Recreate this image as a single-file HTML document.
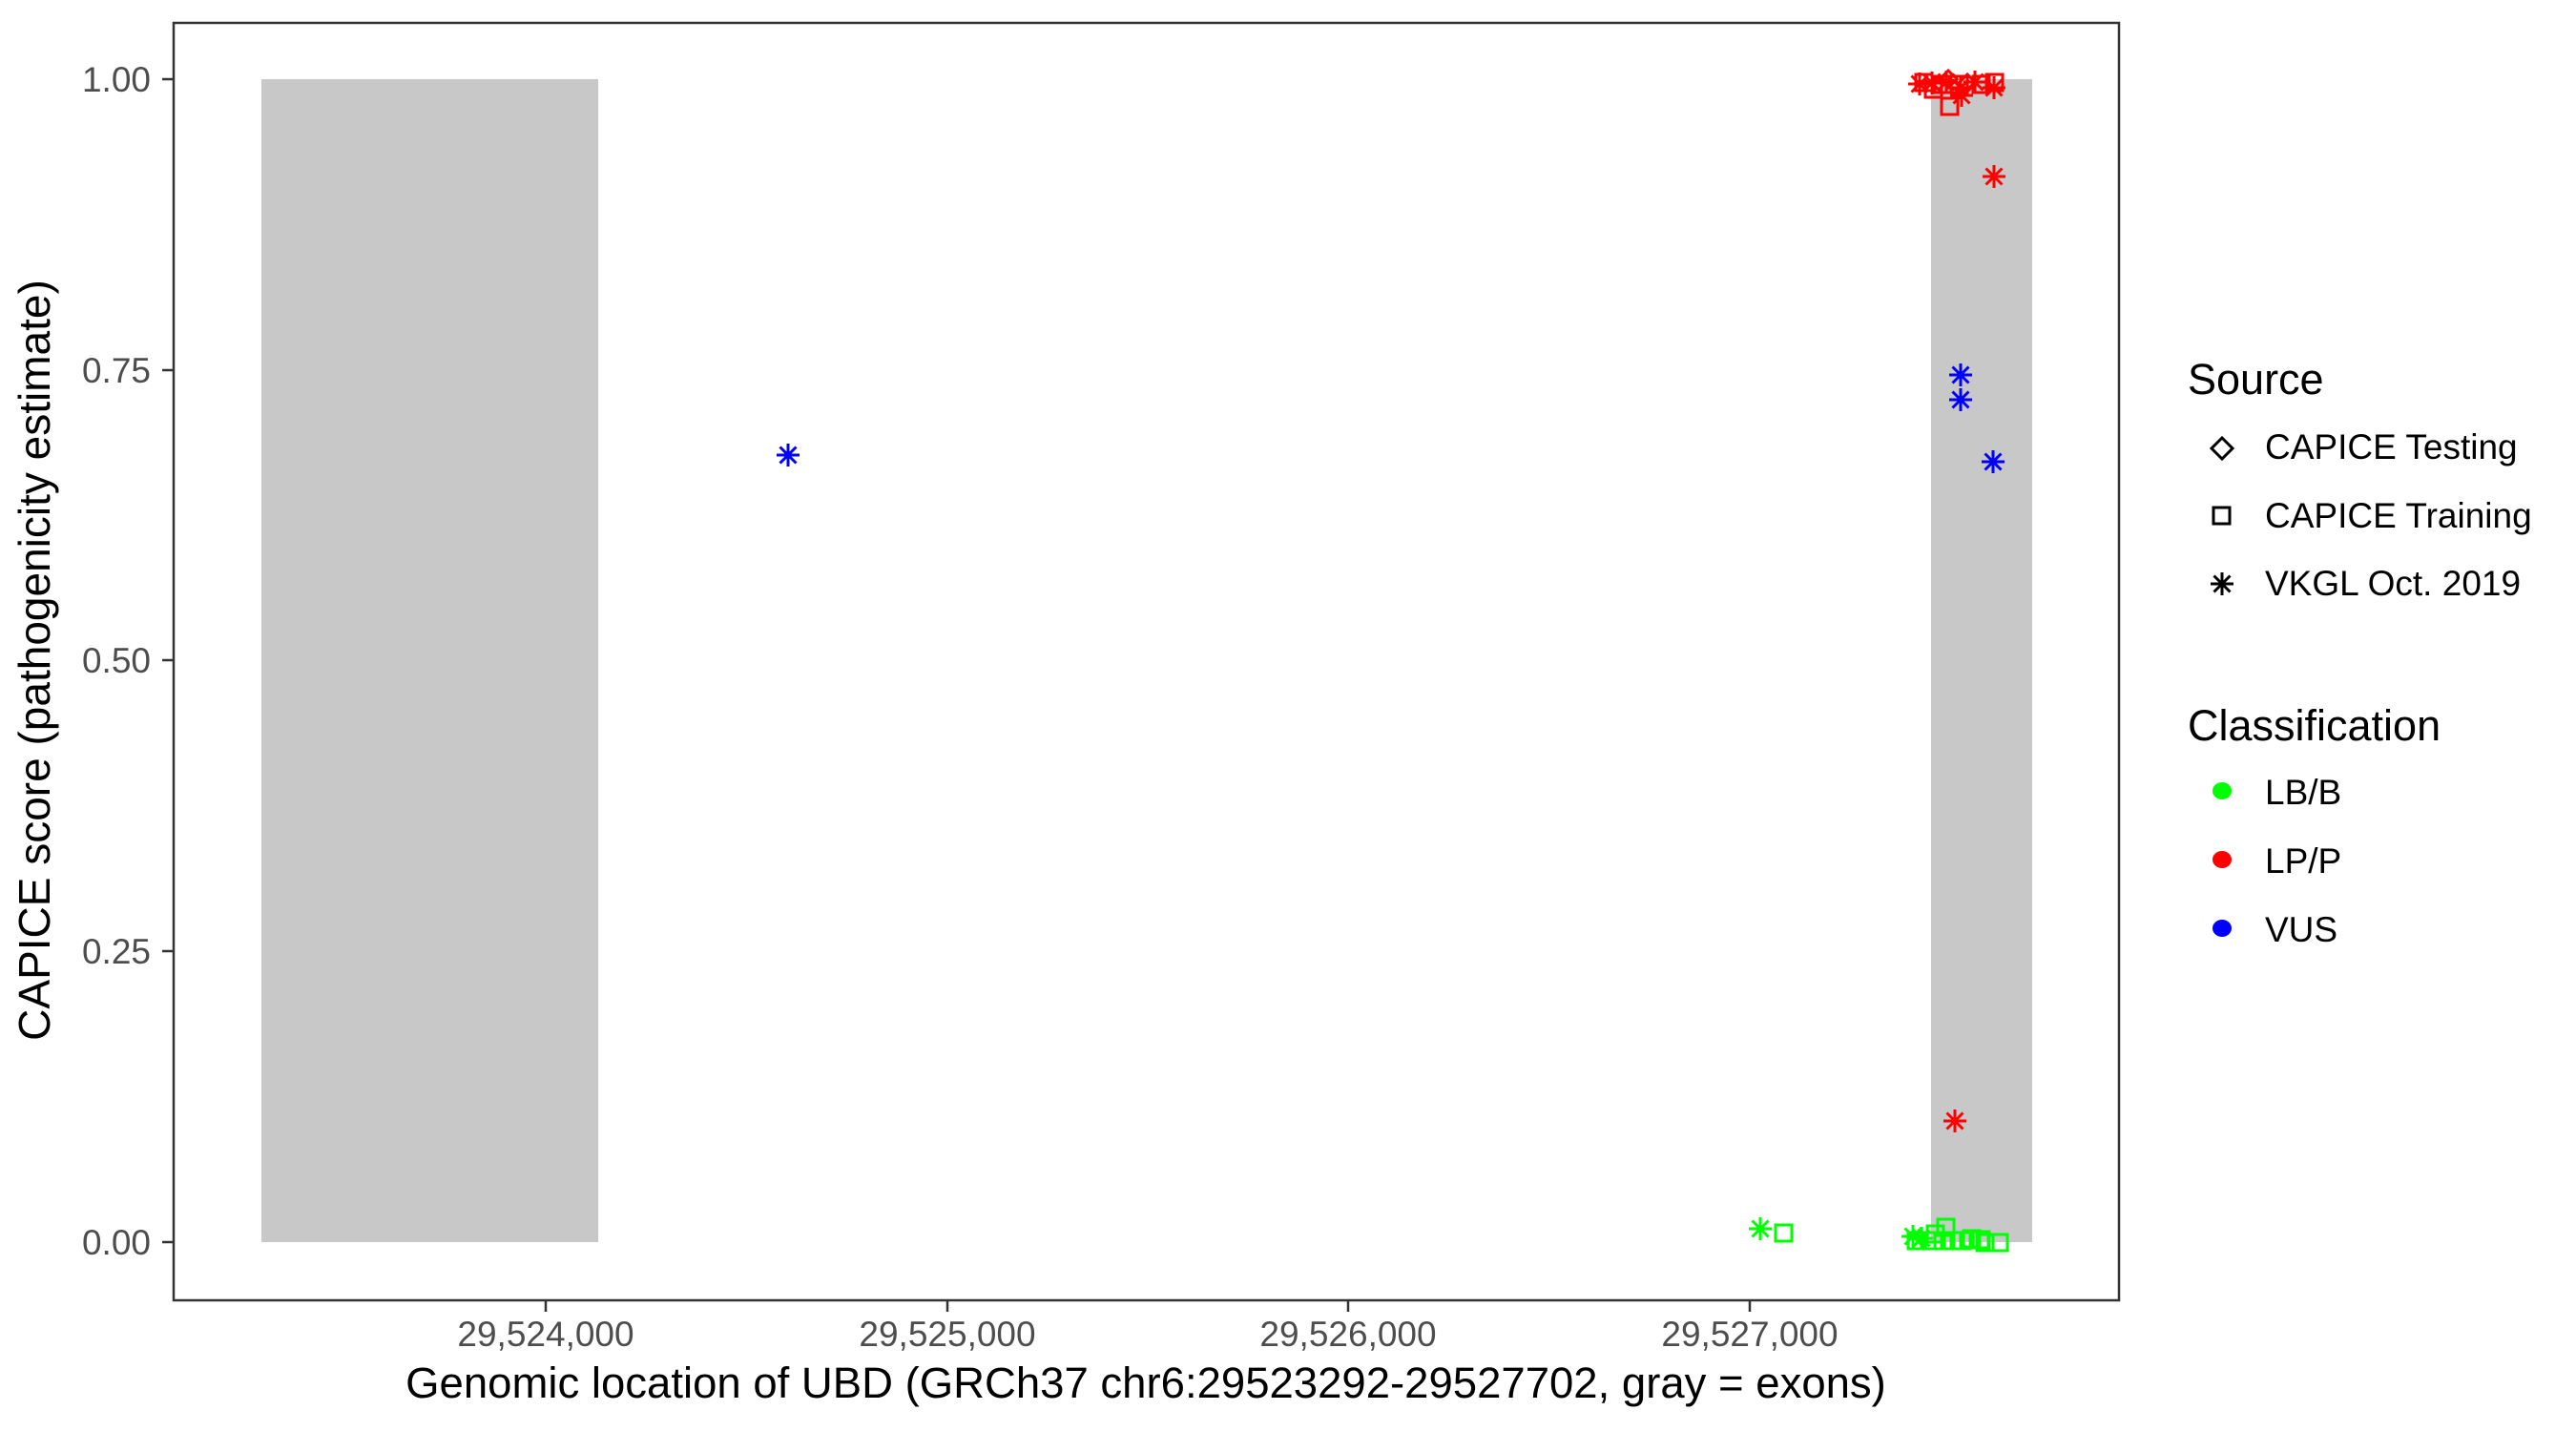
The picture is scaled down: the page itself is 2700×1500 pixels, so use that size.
<!DOCTYPE html>
<html><head><meta charset="utf-8"><style>
html,body{margin:0;padding:0;background:#fff;}
svg{display:block;font-family:"Liberation Sans",Arial,sans-serif;}
</style></head><body>
<svg width="2700" height="1500" viewBox="0 0 2700 1500" xmlns="http://www.w3.org/2000/svg">
<defs>
<g id="ast"><path d="M-12,0H12M0,-12V12M-8.5,-8.5L8.5,8.5M-8.5,8.5L8.5,-8.5" stroke-width="3" fill="none"/></g>
</defs>
<rect x="0" y="0" width="2700" height="1500" fill="#fff"/>
<rect x="274" y="83" width="353" height="1219" fill="#c8c8c8"/>
<rect x="2024" y="83" width="106" height="1219" fill="#c8c8c8"/>
<rect x="182" y="24" width="2039" height="1339" fill="none" stroke="#333" stroke-width="2.5"/>
<g stroke="#333" stroke-width="2.5">
<line x1="170" x2="182" y1="83" y2="83"/>
<line x1="170" x2="182" y1="388" y2="388"/>
<line x1="170" x2="182" y1="692" y2="692"/>
<line x1="170" x2="182" y1="997" y2="997"/>
<line x1="170" x2="182" y1="1302" y2="1302"/>
<line x1="572" x2="572" y1="1363" y2="1375"/>
<line x1="993" x2="993" y1="1363" y2="1375"/>
<line x1="1413" x2="1413" y1="1363" y2="1375"/>
<line x1="1834" x2="1834" y1="1363" y2="1375"/>
</g>
<g fill="#4d4d4d" font-size="37" text-anchor="end">
<text x="158" y="96">1.00</text>
<text x="158" y="401">0.75</text>
<text x="158" y="705">0.50</text>
<text x="158" y="1010">0.25</text>
<text x="158" y="1315">0.00</text>
</g>
<g fill="#4d4d4d" font-size="37" text-anchor="middle">
<text x="572" y="1411">29,524,000</text>
<text x="993" y="1411">29,525,000</text>
<text x="1413" y="1411">29,526,000</text>
<text x="1834" y="1411">29,527,000</text>
</g>
<text x="1201" y="1465" font-size="45.5" text-anchor="middle" fill="#000">Genomic location of UBD (GRCh37 chr6:29523292-29527702, gray = exons)</text>
<text transform="translate(52,692) rotate(-90)" font-size="46" text-anchor="middle" fill="#000">CAPICE score (pathogenicity estimate)</text>

<g stroke="#00ff00" fill="none" stroke-width="3">
<use href="#ast" x="1845" y="1288"/>
<rect x="1861" y="1284" width="17" height="17"/>
<use href="#ast" x="2005" y="1296"/>
<use href="#ast" x="2014" y="1298"/>
<rect x="2000" y="1292" width="17" height="17"/>
<rect x="2020" y="1285" width="17" height="17"/>
<rect x="2031" y="1278" width="17" height="17"/>
<rect x="2018" y="1292" width="17" height="17"/>
<rect x="2028" y="1292" width="17" height="17"/>
<rect x="2038" y="1292" width="17" height="17"/>
<rect x="2048" y="1292" width="17" height="17"/>
<rect x="2058" y="1290" width="17" height="17"/>
<rect x="2068" y="1291" width="17" height="17"/>
<rect x="2072" y="1294" width="17" height="17"/>
<rect x="2084" y="1294" width="20" height="17"/>
</g>
<g stroke="#ff0000" fill="none" stroke-width="3">
<use href="#ast" x="2012" y="88"/>
<use href="#ast" x="2025" y="87"/>
<use href="#ast" x="2040" y="86"/>
<use href="#ast" x="2055" y="92"/>
<use href="#ast" x="2070" y="86"/>
<use href="#ast" x="2090" y="92"/>
<use href="#ast" x="2056" y="100"/>
<rect x="2008" y="78" width="17" height="17"/>
<rect x="2018" y="85" width="17" height="17"/>
<rect x="2028" y="80" width="17" height="17"/>
<rect x="2035" y="103" width="17" height="17"/>
<rect x="2045" y="80" width="17" height="17"/>
<rect x="2068" y="80" width="17" height="17"/>
<rect x="2082" y="78" width="17" height="17"/>
<path d="M2042,74 l9,9 -9,9 -9,-9z"/>
<path d="M2062,78 l9,9 -9,9 -9,-9z"/>
<use href="#ast" x="2090" y="185"/>
<use href="#ast" x="2049" y="1175"/>
</g>
<g stroke="#0000ff" fill="none" stroke-width="3">
<use href="#ast" x="826" y="477"/>
<use href="#ast" x="2055" y="393"/>
<use href="#ast" x="2055" y="419"/>
<use href="#ast" x="2089" y="484"/>
</g>

<text x="2293" y="413" font-size="45" fill="#000">Source</text>
<g font-size="37" fill="#000">
<text x="2374" y="481">CAPICE Testing</text>
<text x="2374" y="553">CAPICE Training</text>
<text x="2374" y="624">VKGL Oct. 2019</text>
<text x="2374" y="843">LB/B</text>
<text x="2374" y="915">LP/P</text>
<text x="2374" y="987">VUS</text>
</g>
<path d="M2329,459 l11,11 -11,11 -11,-11z" fill="none" stroke="#000" stroke-width="3"/>
<rect x="2320" y="532" width="17" height="17" fill="none" stroke="#000" stroke-width="3"/>
<use href="#ast" x="2329" y="612" stroke="#000"/>
<text x="2293" y="776" font-size="45" fill="#000">Classification</text>
<ellipse cx="2329" cy="829" rx="10" ry="9" fill="#00ff00"/>
<ellipse cx="2329" cy="901" rx="10" ry="9" fill="#ff0000"/>
<ellipse cx="2329" cy="973" rx="10" ry="9" fill="#0000ff"/>
</svg>
</body></html>
